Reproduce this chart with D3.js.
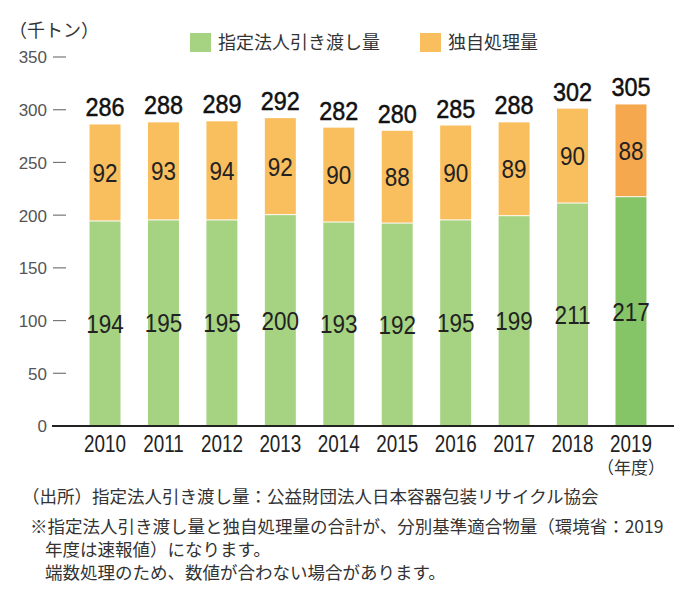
<!DOCTYPE html>
<html><head><meta charset="utf-8">
<script src="https://cdn.jsdelivr.net/npm/d3@7"></script>
<style>
body{margin:0;background:#fff;}
svg{display:block;}
</style></head>
<body>
<svg id="chart" width="690" height="596"></svg>
<script>
const years = ["2010","2011","2012","2013","2014","2015","2016","2017","2018","2019"];
const designated = [194,195,195,200,193,192,195,199,211,217];
const independent = [92,93,94,92,90,88,90,89,90,88];
const totals = [286,288,289,292,282,280,285,288,302,305];
const yTicks = [0,50,100,150,200,250,300,350];
const seriesNames = ["指定法人引き渡し量","独自処理量"];
const unitLabel = "（千トン）";
const yearSuffix = "（年度）";
const notes = [
  "（出所）指定法人引き渡し量：公益財団法人日本容器包装リサイクル協会",
  "※指定法人引き渡し量と独自処理量の合計が、分別基準適合物量（環境省：2019",
  "年度は速報値）になります。",
  "端数処理のため、数値が合わない場合があります。"
];

const green = "#a5d382", green2 = "#86c468";
const orange = "#f9be5e", orange2 = "#f6a84e";
const jp = "'Noto Sans CJK JP', sans-serif";
const num = "'Liberation Sans', Arial, sans-serif";

const svg = d3.select("#chart");
const x = d3.scaleBand().domain(years).range([75.8, 660.2]).paddingInner(0.47).paddingOuter(0.235);
const y = d3.scaleLinear().domain([0,350]).range([426, 57]);
const cx = d => x(d)+x.bandwidth()/2;

// y axis ticks
const yAxis = d3.axisLeft(y).tickValues(yTicks).tickSize(0).tickPadding(0);
const gy = svg.append("g").attr("transform","translate(47,0)").call(yAxis);
gy.select(".domain").remove();
gy.selectAll("text").attr("font-family", num).attr("font-size", 17).attr("fill","#555").attr("x",0).attr("dy","0.35em");
svg.append("g").selectAll("line").data(yTicks.filter(d=>d>0)).join("line")
  .attr("x1",53).attr("x2",66).attr("y1",d=>y(d)).attr("y2",d=>y(d))
  .attr("stroke","#777").attr("stroke-width",1.2);

// bars
const gBars = svg.append("g");
years.forEach((yr,i)=>{
  const last = i === years.length-1;
  gBars.append("rect").attr("x",x(yr)).attr("width",x.bandwidth())
    .attr("y",y(designated[i])).attr("height",y(0)-y(designated[i]))
    .attr("fill", last?green2:green);
  gBars.append("rect").attr("x",x(yr)).attr("width",x.bandwidth())
    .attr("y",y(designated[i]+independent[i])).attr("height",y(designated[i])-y(designated[i]+independent[i])-1)
    .attr("fill", last?orange2:orange);
});

// labels
function label(g, xs, ys, txt, opts){
  g.append("text").attr("transform",`translate(${xs},${ys}) scale(0.9,1)`)
    .attr("text-anchor","middle").attr("font-family",num).attr("font-size",opts.size)
    .attr("fill",opts.fill).attr("stroke",opts.stroke||"none").attr("stroke-width",opts.sw||0)
    .text(txt);
}
const gl = svg.append("g");
years.forEach((yr,i)=>{
  label(gl, cx(yr), y(designated[i]/2)+9, designated[i], {size:25, fill:"#222"});
  label(gl, cx(yr), y(designated[i]+independent[i]/2)+9, independent[i], {size:25, fill:"#222"});
  label(gl, cx(yr), y(designated[i]+independent[i])-8, totals[i], {size:26, fill:"#111", stroke:"#111", sw:0.5});
});

// x axis
const xAxis = d3.axisBottom(x).tickSize(0).tickPadding(0);
const gx = svg.append("g").attr("transform","translate(0,426)").call(xAxis);
gx.select(".domain").remove();
gx.selectAll("text").attr("font-family",num).attr("font-size",23).attr("fill","#222")
  .attr("dy","0").attr("y",0).attr("transform","translate(0,26) scale(0.82,1)");
svg.append("line").attr("x1",52).attr("x2",674).attr("y1",426).attr("y2",426).attr("stroke","#222").attr("stroke-width",2);
svg.append("text").attr("x",cx("2019")).attr("y",474).attr("text-anchor","middle")
  .attr("font-family",jp).attr("font-size",17).attr("fill","#333").text(yearSuffix);

// unit
svg.append("text").attr("x",9).attr("y",37).attr("font-family",jp).attr("font-size",18).attr("fill","#333").text(unitLabel);

// legend
const legend = [{name:seriesNames[0],color:green,x:190},{name:seriesNames[1],color:orange,x:420}];
legend.forEach(l=>{
  svg.append("rect").attr("x",l.x).attr("y",33).attr("width",21).attr("height",19).attr("fill",l.color);
  svg.append("text").attr("x",l.x+28).attr("y",49).attr("font-family",jp).attr("font-size",18).attr("fill","#333").text(l.name);
});

// notes
const noteX = [22,30,45,45], noteY = [503,533,556,579];
notes.forEach((t,i)=>{
  svg.append("text").attr("x",noteX[i]).attr("y",noteY[i]).attr("font-family",jp).attr("font-size",17.5).attr("fill","#333").text(t);
});
</script>
</body></html>
